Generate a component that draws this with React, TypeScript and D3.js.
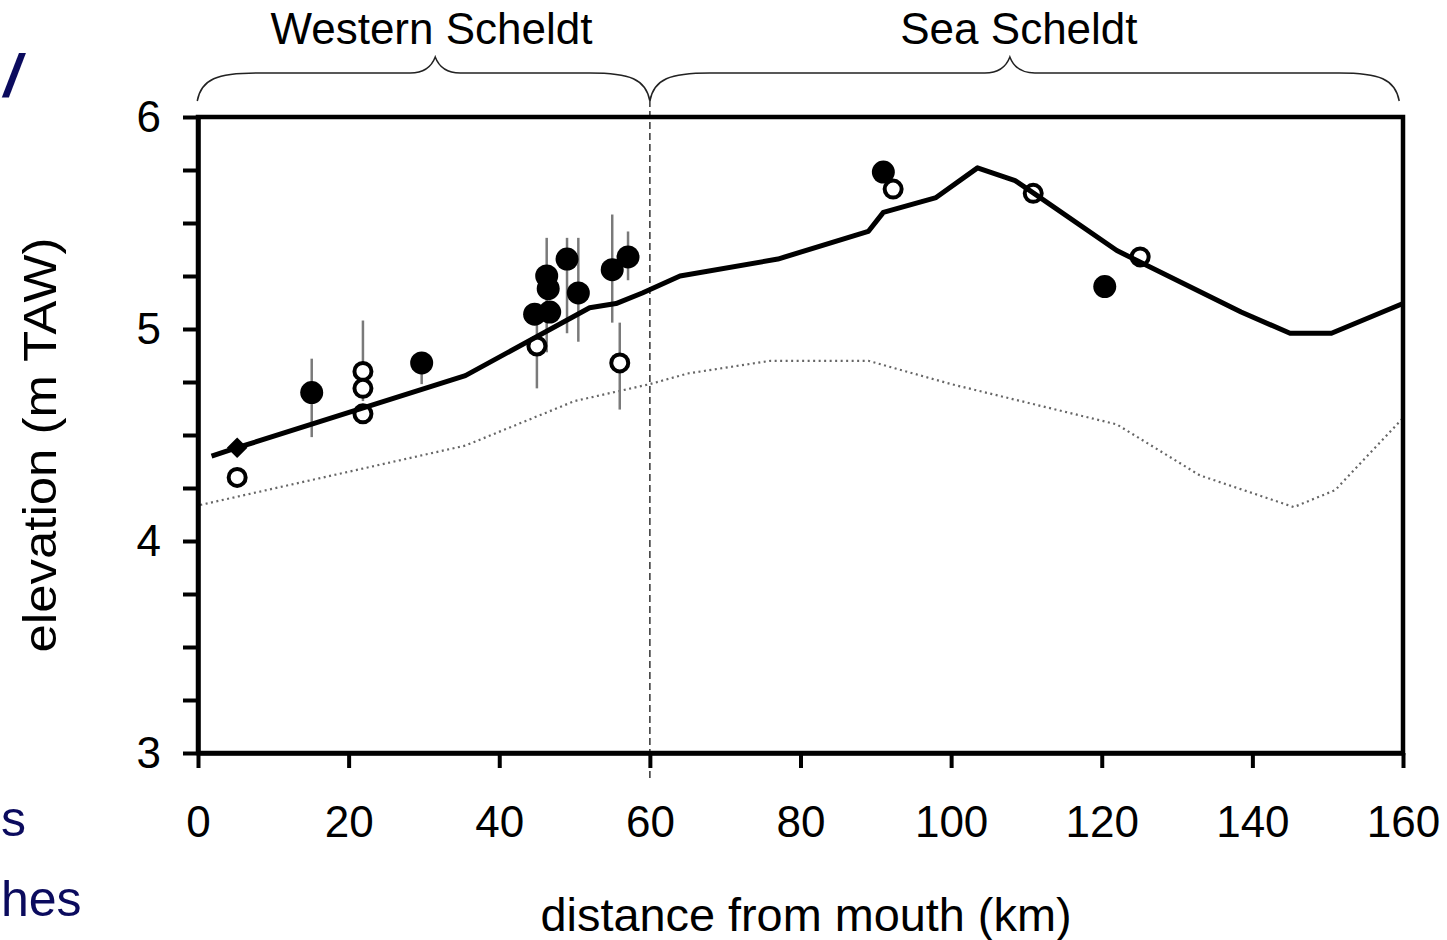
import * as React from "react"
import * as d3 from "d3"

// model line along the estuary (km from mouth, m TAW)
const lineKm = [1.8, 5.2, 35.5, 52, 55.5, 59, 64, 77, 89, 91, 98, 103.5, 108.5, 111, 122, 138.5, 145, 150.5, 160]
const lineElev = [4.4, 4.44, 4.78, 5.1, 5.12, 5.17, 5.25, 5.33, 5.46, 5.55, 5.62, 5.76, 5.7, 5.64, 5.37, 5.08, 4.98, 4.98, 5.12]

// dotted reference line
const dottedKm = [0.3, 35.5, 50, 60, 65, 76, 89, 91, 100, 122, 133, 145.5, 151, 160]
const dottedElev = [4.17, 4.45, 4.66, 4.74, 4.79, 4.85, 4.85, 4.83, 4.74, 4.55, 4.31, 4.16, 4.24, 4.58]

// filled markers, with optional range (lo, hi)
const filledKm = [15.1, 29.7, 44.7, 46.3, 46.5, 46.7, 49, 50.5, 55, 57.1, 91, 120.4]
const filledElev = [4.7, 4.84, 5.07, 5.25, 5.19, 5.08, 5.33, 5.17, 5.28, 5.34, 5.74, 5.2]
const filledLo = [4.49, 4.74, null, 4.89, null, null, 4.98, 4.94, 5.03, 5.23, null, null]
const filledHi = [4.86, 4.89, null, 5.43, null, null, 5.43, 5.43, 5.54, 5.46, null, null]

// open markers
const openKm = [5.2, 21.9, 21.9, 21.9, 45, 56, 92.3, 110.9, 125.1]
const openElev = [4.3, 4.8, 4.72, 4.6, 4.92, 4.84, 5.66, 5.64, 5.34]
const openLo = [null, 4.66, null, null, 4.72, 4.62, null, null, null]
const openHi = [null, 5.04, null, null, 5.12, 5.03, null, null, null]

// single diamond marker
const diamondKm = [5.2]
const diamondElev = [4.44]

const xTicks = [0, 20, 40, 60, 80, 100, 120, 140, 160]
const yTicks = d3.range(3, 6.001, 0.25)
const boundaryKm = 60

const regions = [
  { label: "Western Scheldt", from: -0.1, to: 60, mid: 31.5, textX: 31 },
  { label: "Sea Scheldt", from: 60, to: 159.5, mid: 107.8, textX: 109 },
]

const W = 1447
const H = 940
const FONT = "'Liberation Sans', Arial, sans-serif"
const NAVY = "#0b0b5e"

function bracePath(x1: number, x2: number, xm: number, yEnd: number, yBody: number, yTip: number) {
  return [
    `M${x1},${yEnd}`,
    `C${x1 + 4},${yBody + 6} ${x1 + 20},${yBody} ${x1 + 60},${yBody}`,
    `L${xm - 25},${yBody}`,
    `Q${xm - 6},${yBody} ${xm},${yTip}`,
    `Q${xm + 6},${yBody} ${xm + 25},${yBody}`,
    `L${x2 - 60},${yBody}`,
    `C${x2 - 20},${yBody} ${x2 - 4},${yBody + 6} ${x2},${yEnd}`,
  ].join(" ")
}

export default function App() {
  const svgRef = React.useRef<SVGSVGElement>(null)

  React.useEffect(() => {
    if (!svgRef.current) return
    const svg = d3.select(svgRef.current)
    svg.selectAll("*").remove()

    const x = d3.scaleLinear().domain([0, 160]).range([198, 1403])
    const y = d3.scaleLinear().domain([3, 6]).range([753, 117])

    svg.append("rect").attr("width", W).attr("height", H).attr("fill", "#fff")

    // braces and region labels
    regions.forEach((r) => {
      svg
        .append("path")
        .attr("d", bracePath(x(r.from), x(r.to), x(r.mid), 101, 73, 57))
        .attr("fill", "none")
        .attr("stroke", "#222")
        .attr("stroke-width", 1.5)
      svg
        .append("text")
        .attr("x", x(r.textX))
        .attr("y", 44)
        .attr("text-anchor", "middle")
        .attr("font-family", FONT)
        .attr("font-size", 44)
        .attr("fill", "#000")
        .text(r.label)
    })

    // boundary between the two reaches
    svg
      .append("line")
      .attr("x1", x(boundaryKm))
      .attr("x2", x(boundaryKm))
      .attr("y1", 100)
      .attr("y2", 782)
      .attr("stroke", "#333")
      .attr("stroke-width", 1.5)
      .attr("stroke-dasharray", "7,4")

    // dotted line
    const dotted = dottedKm.map((k, i) => [k, dottedElev[i]] as [number, number])
    svg
      .append("path")
      .datum(dotted)
      .attr("fill", "none")
      .attr("stroke", "#666")
      .attr("stroke-width", 2.2)
      .attr("stroke-dasharray", "2,3.5")
      .attr("d", d3.line().x((d) => x(d[0])).y((d) => y(d[1])))

    // error bars
    const bars = [
      ...filledKm.map((k, i) => ({ k, lo: filledLo[i], hi: filledHi[i] })),
      ...openKm.map((k, i) => ({ k, lo: openLo[i], hi: openHi[i] })),
    ].filter((b) => b.lo != null && b.hi != null)
    svg
      .append("g")
      .selectAll("line")
      .data(bars)
      .join("line")
      .attr("x1", (d) => x(d.k))
      .attr("x2", (d) => x(d.k))
      .attr("y1", (d) => y(d.lo as number))
      .attr("y2", (d) => y(d.hi as number))
      .attr("stroke", "#7a7a7a")
      .attr("stroke-width", 2.5)

    // open markers
    svg
      .append("g")
      .selectAll("circle")
      .data(openKm.map((k, i) => [k, openElev[i]]))
      .join("circle")
      .attr("cx", (d) => x(d[0]))
      .attr("cy", (d) => y(d[1]))
      .attr("r", 8.5)
      .attr("fill", "#fff")
      .attr("stroke", "#000")
      .attr("stroke-width", 4)

    // solid model line
    const solid = lineKm.map((k, i) => [k, lineElev[i]] as [number, number])
    svg
      .append("path")
      .datum(solid)
      .attr("fill", "none")
      .attr("stroke", "#000")
      .attr("stroke-width", 5)
      .attr("stroke-linejoin", "round")
      .attr("d", d3.line().x((d) => x(d[0])).y((d) => y(d[1])))

    // filled markers
    svg
      .append("g")
      .selectAll("circle")
      .data(filledKm.map((k, i) => [k, filledElev[i]]))
      .join("circle")
      .attr("cx", (d) => x(d[0]))
      .attr("cy", (d) => y(d[1]))
      .attr("r", 11.5)
      .attr("fill", "#000")

    // diamond
    svg
      .append("g")
      .selectAll("path")
      .data(diamondKm.map((k, i) => [k, diamondElev[i]]))
      .join("path")
      .attr("transform", (d) => `translate(${x(d[0])},${y(d[1])})`)
      .attr("d", d3.symbol(d3.symbolDiamond2, 270)())
      .attr("fill", "#000")

    // frame
    svg
      .append("rect")
      .attr("x", x(0))
      .attr("y", y(6))
      .attr("width", x(160) - x(0))
      .attr("height", y(3) - y(6))
      .attr("fill", "none")
      .attr("stroke", "#000")
      .attr("stroke-width", 4.5)

    // x axis
    const gx = svg
      .append("g")
      .attr("transform", `translate(0,${y(3)})`)
      .call(d3.axisBottom(x).tickValues(xTicks).tickSize(15).tickPadding(38).tickSizeOuter(0))
    gx.select(".domain").attr("stroke-width", 4.5)
    gx.selectAll(".tick line").attr("stroke-width", 4)
    gx.selectAll("text").attr("font-family", FONT).attr("font-size", 44).attr("fill", "#000")

    // y axis
    const gy = svg
      .append("g")
      .attr("transform", `translate(${x(0)},0)`)
      .call(
        d3
          .axisLeft(y)
          .tickValues(yTicks)
          .tickSize(15)
          .tickPadding(22)
          .tickSizeOuter(0)
          .tickFormat((d) => (Number(d) % 1 === 0 ? d3.format("d")(Number(d)) : ""))
      )
    gy.select(".domain").attr("stroke-width", 4.5)
    gy.selectAll(".tick line").attr("stroke-width", 4)
    gy.selectAll("text").attr("font-family", FONT).attr("font-size", 44).attr("fill", "#000")

    // axis titles
    svg
      .append("text")
      .attr("x", 806)
      .attr("y", 931)
      .attr("text-anchor", "middle")
      .attr("font-family", FONT)
      .attr("font-size", 46)
      .attr("textLength", 531)
      .attr("lengthAdjust", "spacingAndGlyphs")
      .text("distance from mouth (km)")

    svg
      .append("text")
      .attr("transform", "translate(56,445) rotate(-90)")
      .attr("text-anchor", "middle")
      .attr("font-family", FONT)
      .attr("font-size", 47)
      .attr("textLength", 415)
      .attr("lengthAdjust", "spacingAndGlyphs")
      .text("elevation (m TAW)")

    // slide text fragments at the left edge
    svg
      .append("text")
      .attr("x", 4)
      .attr("y", 96)
      .attr("font-family", FONT)
      .attr("font-size", 60)
      .attr("font-style", "italic")
      .attr("font-weight", "bold")
      .attr("fill", NAVY)
      .text("/")
    svg
      .append("text")
      .attr("x", 1)
      .attr("y", 836)
      .attr("font-family", FONT)
      .attr("font-size", 50)
      .attr("fill", NAVY)
      .text("s")
    svg
      .append("text")
      .attr("x", 1)
      .attr("y", 916)
      .attr("font-family", FONT)
      .attr("font-size", 50)
      .attr("fill", NAVY)
      .text("hes")
  }, [])

  return (
    <svg
      ref={svgRef}
      width={W}
      height={H}
      viewBox={`0 0 ${W} ${H}`}
      style={{ position: "absolute", left: 0, top: 0, display: "block" }}
    />
  )
}
